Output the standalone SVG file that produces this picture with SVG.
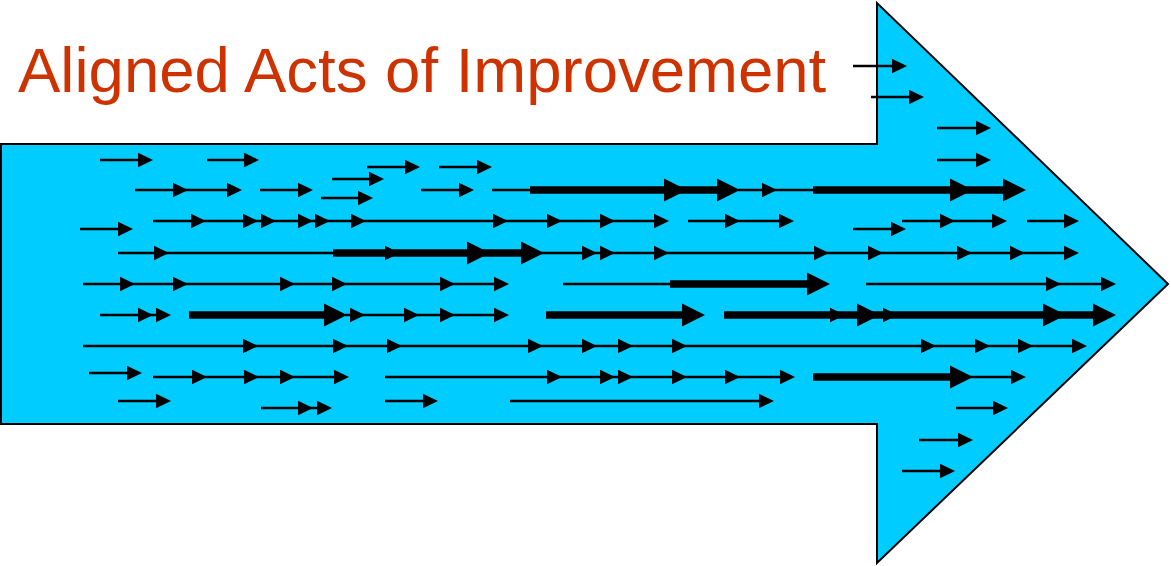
<svg xmlns="http://www.w3.org/2000/svg" xmlns:xlink="http://www.w3.org/1999/xlink" width="1171" height="566" viewBox="0 0 1171 566">
<style>
.t{stroke:#000;stroke-width:2.3;fill:none}
.T{stroke:#000;stroke-width:7.3;fill:none}
.title{font-family:"Liberation Sans",Arial,sans-serif;font-size:63.5px;fill:#CC3300}
</style>
<defs>
<path id="h" d="M-15 -7.2L0 0L-15 7.2Z" fill="#000"/>
<path id="H" d="M-23 -11.5L0 0L-23 11.5Z" fill="#000"/>
</defs>
<rect width="1171" height="566" fill="#fff"/>
<g id="big-arrow">
<polygon points="1,144 877,144 877,3 1168,284 877,563 877,424 1,424" fill="#00CCFF" stroke="#000" stroke-width="2"/>
</g>
<g id="title">
<text class="title" x="18" y="92">Aligned Acts of Improvement</text>
</g>
<g id="acts">
<path class="t" d="M853 66H897M871 97H914M937 128H981M100 160H143M207 160H249M937 160H981M367 167H410M439 167H482M332 179H374M321 198H363"/>
<use href="#h" x="907" y="66"/><use href="#h" x="924" y="97"/><use href="#h" x="991" y="128"/>
<use href="#h" x="153" y="160"/><use href="#h" x="259" y="160"/><use href="#h" x="991" y="160"/>
<use href="#h" x="420" y="167"/><use href="#h" x="492" y="167"/><use href="#h" x="384" y="179"/><use href="#h" x="373" y="198"/>

<path class="t" d="M135 190H232M260 190H303M421 190H464M492 190H532M738 190H813"/>
<path class="T" d="M530 190H730M813 190H1016"/>
<use href="#h" x="188" y="190"/><use href="#h" x="242" y="190"/><use href="#h" x="313" y="190"/><use href="#h" x="474" y="190"/><use href="#h" x="777" y="190"/>
<use href="#H" x="687" y="190"/><use href="#H" x="740" y="190"/><use href="#H" x="973" y="190"/><use href="#H" x="1026" y="190"/>

<path class="t" d="M153 221H659M688 221H784M902 221H997M1027 221H1069M80 229H123M853 229H896"/>
<use href="#h" x="206" y="221"/><use href="#h" x="258" y="221"/><use href="#h" x="276" y="221"/><use href="#h" x="313" y="221"/><use href="#h" x="330" y="221"/><use href="#h" x="366" y="221"/><use href="#h" x="508" y="221"/><use href="#h" x="562" y="221"/><use href="#h" x="615" y="221"/><use href="#h" x="669" y="221"/>
<use href="#h" x="740" y="221"/><use href="#h" x="794" y="221"/><use href="#h" x="955" y="221"/><use href="#h" x="1007" y="221"/><use href="#h" x="1079" y="221"/>
<use href="#h" x="133" y="229"/><use href="#h" x="906" y="229"/>

<path class="t" d="M118 253H335M540 253H1069"/>
<path class="T" d="M333 253H535"/>
<use href="#h" x="400" y="253"/><use href="#H" x="490" y="253"/><use href="#H" x="544" y="253"/>
<use href="#h" x="169" y="253"/><use href="#h" x="597" y="253"/><use href="#h" x="615" y="253"/><use href="#h" x="669" y="253"/><use href="#h" x="829" y="253"/><use href="#h" x="883" y="253"/><use href="#h" x="972" y="253"/><use href="#h" x="1025" y="253"/><use href="#h" x="1079" y="253"/>

<path class="t" d="M83 284H499M563 284H672M866 284H1106"/>
<path class="T" d="M670 284H810"/>
<use href="#h" x="135" y="284"/><use href="#h" x="188" y="284"/><use href="#h" x="295" y="284"/><use href="#h" x="347" y="284"/><use href="#h" x="455" y="284"/><use href="#h" x="509" y="284"/>
<use href="#H" x="830" y="284"/><use href="#h" x="1061" y="284"/><use href="#h" x="1116" y="284"/>

<path class="t" d="M100 315H161M345 315H499"/>
<path class="T" d="M189 315H330M546 315H690M724 315H1100"/>
<use href="#h" x="153" y="315"/><use href="#h" x="171" y="315"/><use href="#H" x="347" y="315"/>
<use href="#h" x="365" y="315"/><use href="#h" x="419" y="315"/><use href="#h" x="455" y="315"/><use href="#h" x="509" y="315"/>
<use href="#H" x="705" y="315"/><use href="#h" x="845" y="315"/><use href="#H" x="880" y="315"/><use href="#h" x="898" y="315"/><use href="#H" x="1066" y="315"/><use href="#H" x="1116" y="315"/>

<path class="t" d="M83 346H1077"/>
<use href="#h" x="258" y="346"/><use href="#h" x="348" y="346"/><use href="#h" x="402" y="346"/><use href="#h" x="543" y="346"/><use href="#h" x="597" y="346"/><use href="#h" x="633" y="346"/><use href="#h" x="687" y="346"/><use href="#h" x="936" y="346"/><use href="#h" x="990" y="346"/><use href="#h" x="1033" y="346"/><use href="#h" x="1087" y="346"/>

<path class="t" d="M89 373H132M153 377H339M385 377H785M970 377H1016"/>
<path class="T" d="M813 377H955"/>
<use href="#h" x="142" y="373"/>
<use href="#h" x="207" y="377"/><use href="#h" x="259" y="377"/><use href="#h" x="295" y="377"/><use href="#h" x="349" y="377"/>
<use href="#h" x="562" y="377"/><use href="#h" x="615" y="377"/><use href="#h" x="633" y="377"/><use href="#h" x="687" y="377"/><use href="#h" x="740" y="377"/><use href="#h" x="795" y="377"/>
<use href="#H" x="973" y="377"/><use href="#h" x="1026" y="377"/>

<path class="t" d="M118 401H161M385 401H428M510 401H764M261 408H322M956 408H998M919 440H963M902 471H945"/>
<use href="#h" x="171" y="401"/><use href="#h" x="438" y="401"/><use href="#h" x="774" y="401"/>
<use href="#h" x="313" y="408"/><use href="#h" x="332" y="408"/><use href="#h" x="1008" y="408"/>
<use href="#h" x="973" y="440"/><use href="#h" x="955" y="471"/>
</g>
</svg>
